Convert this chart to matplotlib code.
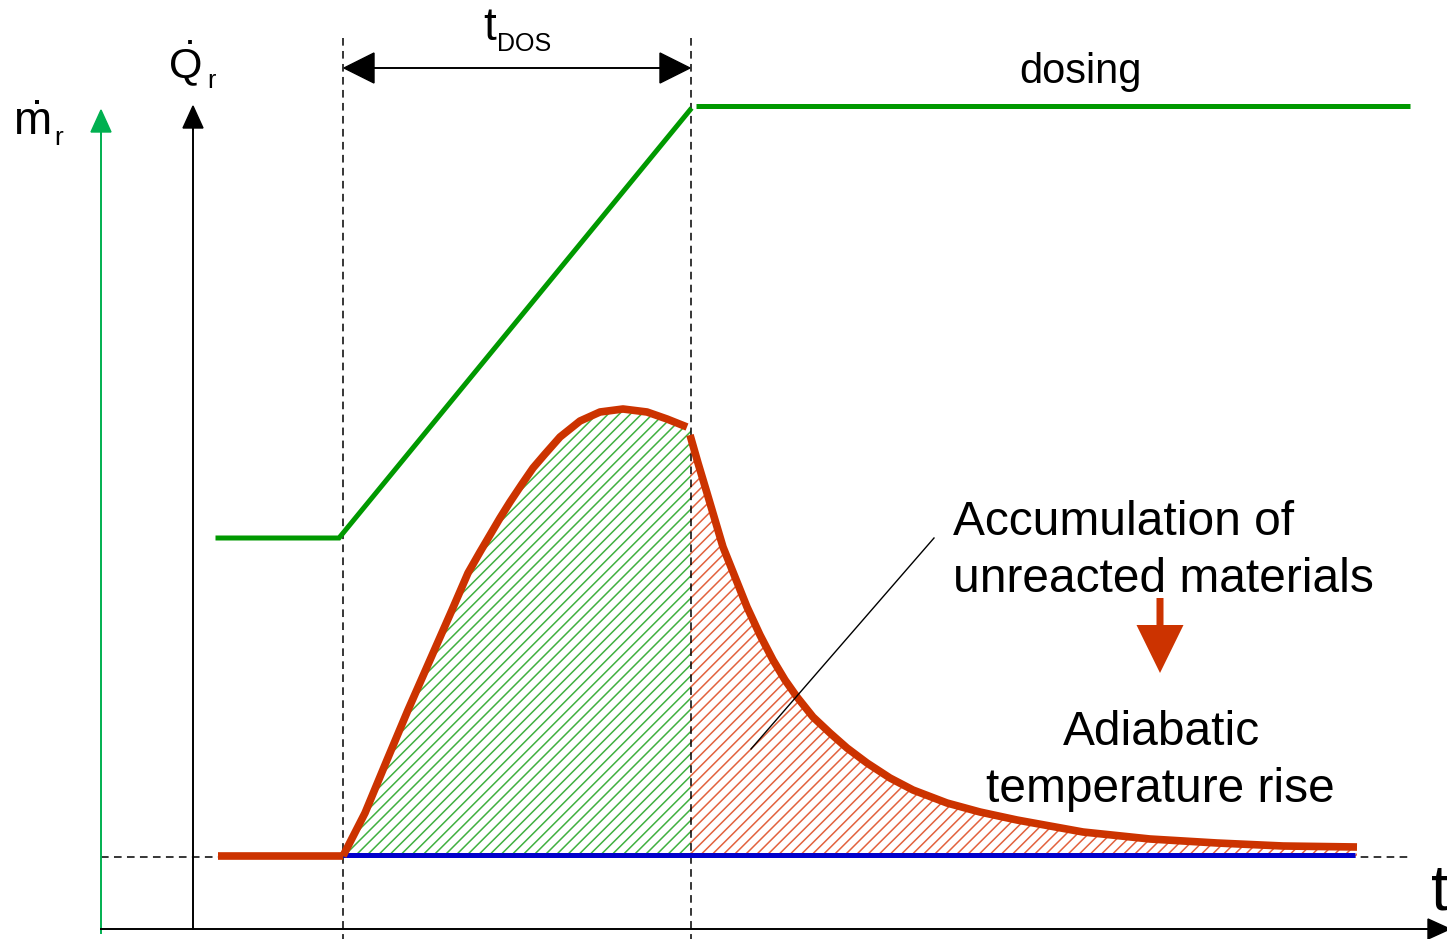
import numpy as np
import matplotlib.pyplot as plt

# schematic of a semi-batch reaction: dosing ramp and heat release rate
# all values (x = time, y = image row, top down)

base_y = 856

dose_ramp_t = [218, 339, 690]
dose_ramp_v = [538, 538, 110]
dose_flat_t = [696, 1410]
dose_flat_v = [106, 106]

pre_t = [218, 343]
pre_q = [856, 856]

rise_t = [343, 365, 387, 408, 430, 452, 468, 480, 490, 500, 510, 522, 533, 545,
          560, 580, 600, 623, 647, 667, 687, 691]
rise_q = [856, 813, 760, 710, 660, 610, 573, 552, 535, 518, 502, 484, 468, 454,
          437, 421, 412, 409, 412, 419, 427, 429]

decay_t = [690, 698, 707, 715, 723, 735, 747, 760, 773, 785, 797, 813, 830, 847,
           867, 890, 913, 947, 980, 1017, 1083, 1150, 1217, 1283, 1357]
decay_q = [435, 463, 493, 520, 547, 577, 607, 635, 660, 680, 697, 717, 733, 748,
           763, 778, 790, 803, 812, 820, 832, 839, 843, 846, 847]

cool_t = [343, 1355]
cool_q = [855, 855]

t_start, t_end = 343, 691

RED = '#CC3300'
GREEN = '#009900'
AXGREEN = '#00B050'
BLUE = '#0000CC'

plt.rcParams['font.family'] = ['Liberation Sans', 'DejaVu Sans']
plt.rcParams['mathtext.fontset'] = 'custom'
plt.rcParams['mathtext.rm'] = 'Liberation Sans'
plt.rcParams['hatch.linewidth'] = 1.1

fig = plt.figure(figsize=(14.47, 9.39), dpi=100)
ax = fig.add_axes([0, 0, 1, 1])
ax.set_xlim(0, 1447)
ax.set_ylim(939, 0)
ax.axis('off')

# hatched areas
ax.fill_between(rise_t, rise_q, base_y, facecolor='none', edgecolor='#40B040',
                hatch='///', linewidth=0)
ax.fill_between(decay_t, decay_q, base_y, facecolor='none', edgecolor='#E2623E',
                hatch='///', linewidth=0)

# dashed guides
dash = (0, (5, 3.5))
ax.plot([101, 1410], [base_y + 1, base_y + 1], color='black', lw=1.1, ls=dash)
for tx in (t_start, t_end):
    ax.plot([tx, tx], [38, 939], color='black', lw=1.1, ls=dash)

# axes with arrows
ax.plot([101, 101], [933, 125], color=AXGREEN, lw=1.4)
ax.arrow(101, 135, 0, -25, width=0.1, head_width=20, head_length=22,
         length_includes_head=True, color=AXGREEN)
ax.plot([193, 193], [929, 120], color='black', lw=1.4)
ax.arrow(193, 130, 0, -24, width=0.1, head_width=20, head_length=22,
         length_includes_head=True, color='black')
ax.plot([101, 1430], [929, 929], color='black', lw=1.4)
ax.arrow(1420, 929, 30, 0, width=0.1, head_width=20, head_length=22,
         length_includes_head=True, color='black')

# t_DOS double arrow
ax.plot([t_start + 20, t_end - 20], [68, 68], color='black', lw=1.4)
ax.arrow(t_start + 32, 68, -31, 0, width=0.1, head_width=30, head_length=30,
         length_includes_head=True, color='black')
ax.arrow(t_end - 32, 68, 31, 0, width=0.1, head_width=30, head_length=30,
         length_includes_head=True, color='black')

# curves
ax.plot(dose_ramp_t, dose_ramp_v, color=GREEN, lw=3.6, solid_joinstyle='miter')
ax.plot(dose_flat_t, dose_flat_v, color=GREEN, lw=3.6, solid_capstyle='butt')
ax.plot(cool_t, cool_q, color=BLUE, lw=3.6, solid_capstyle='butt')
ax.plot(pre_t, pre_q, color=RED, lw=5.5, solid_capstyle='butt')
ax.plot(rise_t[:-1], rise_q[:-1], color=RED, lw=5.5, solid_capstyle='butt',
        solid_joinstyle='round')
ax.plot(decay_t, decay_q, color=RED, lw=5.5, solid_capstyle='butt',
        solid_joinstyle='round')

# annotation pointer
ax.plot([934, 751], [538, 749], color='black', lw=1.0)

# red arrow
ax.arrow(1160, 598, 0, 75, width=7, head_width=47, head_length=48,
         length_includes_head=True, color=RED, lw=0)

# texts
ax.text(1080, 83, 'dosing', fontsize=30, ha='center', va='baseline')
ax.text(953, 535, 'Accumulation of', fontsize=34.5, ha='left', va='baseline')
ax.text(953, 592, 'unreacted materials', fontsize=34.5, ha='left', va='baseline')
ax.text(1161, 745, 'Adiabatic', fontsize=34.5, ha='center', va='baseline')
ax.text(1160, 802, 'temperature rise', fontsize=34.5, ha='center', va='baseline')

ax.text(1431, 910, 't', fontsize=46, ha='left', va='baseline')
ax.text(483, 40, 't', fontsize=33, ha='left', va='baseline')
ax.text(497, 51, 'DOS', fontsize=18, ha='left', va='baseline')

ax.text(168, 78, r'$\dot{\mathrm{Q}}$', fontsize=31, ha='left', va='baseline')
ax.text(207, 88, 'r', fontsize=18, ha='left', va='baseline')
ax.text(13, 135, r'$\dot{\mathrm{m}}$', fontsize=33, ha='left', va='baseline')
ax.text(54, 145, 'r', fontsize=19, ha='left', va='baseline')

fig.savefig('out.png', dpi=100)
